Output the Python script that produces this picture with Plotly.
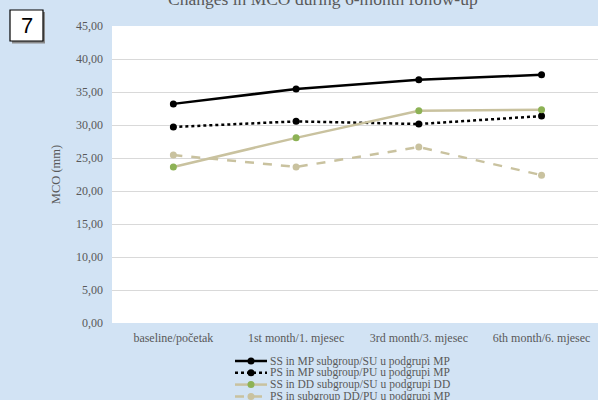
import plotly.graph_objects as go

# data
months = ["baseline/početak", "1st month/1. mjesec", "3rd month/3. mjesec", "6th month/6. mjesec"]
ss_mp = [33.2, 35.45, 36.85, 37.6]
ps_mp = [29.7, 30.55, 30.15, 31.35]
ss_dd = [23.65, 28.05, 32.15, 32.3]
ps_dd = [25.45, 23.65, 26.65, 22.4]

names = [
    "SS in MP subgroup/SU u podgrupi MP",
    "PS in MP subgroup/PU u podgrupi MP",
    "SS in DD subgroup/SU u podgrupi DD",
    "PS in subgroup DD/PU u podgrupi MP",
]

BG = "#D2E3F4"
GREY = "#595959"
TAN = "#C9C29F"
FONT = "Liberation Serif"

styles = [
    dict(line=dict(color="black", width=2.5, dash="solid"), marker=dict(color="black", size=7)),
    dict(line=dict(color="black", width=2.5, dash="dot"), marker=dict(color="black", size=7)),
    dict(line=dict(color=TAN, width=2.5, dash="solid"), marker=dict(color="#8DB255", size=7)),
    dict(line=dict(color=TAN, width=2.5, dash="dash"), marker=dict(color=TAN, size=7)),
]


def px_x(x):
    # screen pixel -> paper x (plot area spans 112..598)
    return (x - 112) / 486


def px_y(y):
    # screen pixel -> paper y (plot area spans 26..323)
    return (323 - y) / 297


fig = go.Figure()
for name, vals, st in zip(names, [ss_mp, ps_mp, ss_dd, ps_dd], styles):
    fig.add_trace(go.Scatter(x=months, y=vals, name=name, mode="lines+markers",
                             line=st["line"], marker=st["marker"], showlegend=False))

fig.update_layout(
    width=598, height=400,
    margin=dict(l=112, r=0, t=26, b=77),
    paper_bgcolor=BG, plot_bgcolor="white",
    font=dict(family=FONT, size=12, color=GREY),
    separators=", ",
)
fig.update_xaxes(range=[-0.5, 3.46], showgrid=False, ticks="", tickfont=dict(size=12),
                 ticklabelstandoff=6)
fig.update_yaxes(range=[0, 45], dtick=5, tickformat=".2f", gridcolor="#D9D9D9",
                 zeroline=False, showline=False, ticks="", tickfont=dict(size=12),
                 ticklabelstandoff=8,
                 title=dict(text="MCO (mm)", font=dict(size=12.5), standoff=12))

# title, partly cut off at the top
fig.add_annotation(text="Changes in MCO during 6-month follow-up", xref="paper", yref="paper",
                   x=px_x(323), y=px_y(-1), xanchor="center", yanchor="middle",
                   showarrow=False, font=dict(size=17.5, color=GREY))

# figure number box with shadow
fig.add_shape(type="rect", xref="paper", yref="paper", layer="above",
              x0=px_x(12), x1=px_x(45), y0=px_y(43.5), y1=px_y(12),
              fillcolor="#8A8A8A", line=dict(width=0))
fig.add_shape(type="rect", xref="paper", yref="paper", layer="above",
              x0=px_x(10), x1=px_x(43), y0=px_y(41), y1=px_y(10),
              fillcolor="white", line=dict(color="black", width=1.2))
fig.add_annotation(text="7", xref="paper", yref="paper", x=px_x(26.5), y=px_y(25.5),
                   xanchor="center", yanchor="middle", showarrow=False,
                   font=dict(family="Liberation Sans", size=22, color="black"))

# compact legend drawn by hand
for i, (name, st) in enumerate(zip(names, styles)):
    yp = px_y(361 + i * 11.8)
    fig.add_shape(type="line", xref="paper", yref="paper", x0=px_x(235), x1=px_x(267),
                  y0=yp, y1=yp, line=st["line"])
    fig.add_shape(type="circle", xref="paper", yref="paper", xsizemode="pixel", ysizemode="pixel",
                  xanchor=px_x(251), yanchor=yp, x0=-3.5, x1=3.5, y0=-3.5, y1=3.5,
                  fillcolor=st["marker"]["color"], line=dict(width=0))
    fig.add_annotation(text=name, xref="paper", yref="paper", x=px_x(268), y=yp,
                       xanchor="left", yanchor="middle", showarrow=False, font=dict(size=11.5))

# drop the default 8px page margin so the figure fills the window
fig.write_html("out.html", config={"displayModeBar": False},
               post_script="document.body.style.margin='0';")
